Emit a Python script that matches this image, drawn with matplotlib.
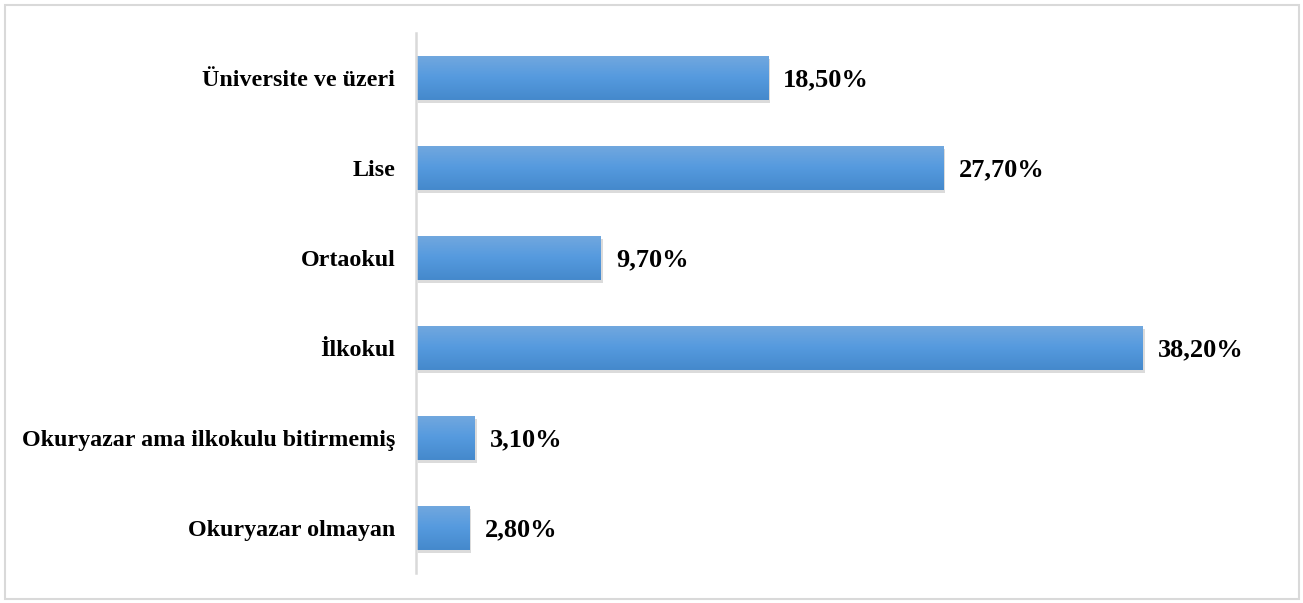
import matplotlib
matplotlib.use('Agg')
import matplotlib.pyplot as plt
import matplotlib.patheffects as pe
from matplotlib.colors import LinearSegmentedColormap
from matplotlib.patches import Rectangle
import numpy as np

plt.rcParams['font.family'] = ['Liberation Serif', 'DejaVu Serif']

# Veriler (alttan üste)
kategoriler = ['Okuryazar olmayan', 'Okuryazar ama ilkokulu bitirmemiş',
               'İlkokul', 'Ortaokul', 'Lise', 'Üniversite ve üzeri']
oranlar = [2.8, 3.1, 38.2, 9.7, 27.7, 18.5]
etiketler = ['2,80%', '3,10%', '38,20%', '9,70%', '27,70%', '18,50%']

fig = plt.figure(figsize=(13.03, 6.03), dpi=100)
ax = fig.add_axes([416 / 1303, 1 - 573 / 603, (1250 - 416) / 1303, 540 / 603])

# Dış çerçeve
fig.patches.append(Rectangle((5 / 1303, 4 / 603), 1294 / 1303, 594 / 603,
                             transform=fig.transFigure, fill=False,
                             edgecolor='#d9d9d9', linewidth=1.5))

y = np.arange(len(kategoriler))
golge = [pe.SimplePatchShadow(offset=(1.5, -2), shadow_rgbFace='#888888', alpha=0.3),
         pe.Normal()]
bars = ax.barh(y, oranlar, height=0.49, color='#5b9bd5', zorder=2, path_effects=golge)

# Gradyan dolgu
cmap = LinearSegmentedColormap.from_list('mavi', ['#4589cc', '#559ade', '#72a8df'])
grad = np.linspace(0, 1, 64).reshape(-1, 1)
for bar in bars:
    x0, y0 = bar.get_x(), bar.get_y()
    w, h = bar.get_width(), bar.get_height()
    im = ax.imshow(grad, cmap=cmap, aspect='auto', origin='lower',
                   extent=(x0, x0 + w, y0, y0 + h), zorder=3)
    im.set_clip_path(bar)

for bar, txt in zip(bars, etiketler):
    ax.annotate(txt, (bar.get_width(), bar.get_y() + bar.get_height() / 2),
                xytext=(11, -1), textcoords='offset points',
                ha='left', va='center', fontsize=19, fontweight='bold')

ax.set_xlim(0, (1250 - 416) / 19.03)
ax.set_ylim(-0.5, len(kategoriler) - 0.5)
ax.set_yticks(y)
ax.set_yticklabels(kategoriler, fontsize=17.3, fontweight='bold')
ax.tick_params(axis='y', length=0, pad=15)
ax.set_xticks([])
for s in ['top', 'right', 'bottom']:
    ax.spines[s].set_visible(False)
ax.spines['left'].set_color('#d9d9d9')
ax.spines['left'].set_linewidth(1.8)
ax.spines['left'].set_zorder(5)

fig.savefig('out.png', dpi=100)
